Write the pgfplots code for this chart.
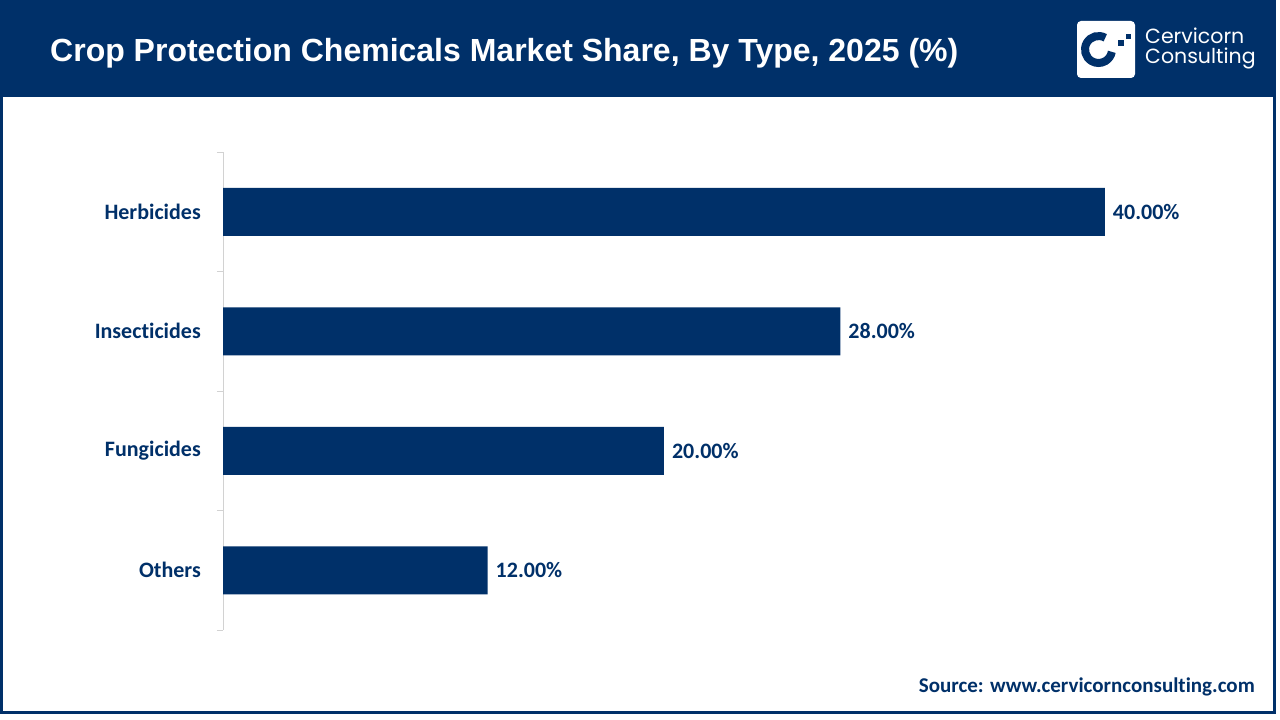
\documentclass[border=0pt]{standalone}
\usepackage{pgfplots}
\pgfplotsset{compat=1.18}
\usepackage{fontspec}
\setmainfont{Carlito}[Ligatures=NoCommon]
\newfontfamily\titlefont{Liberation Sans}
\newfontfamily\logofont{Poppins}
\definecolor{navy}{RGB}{0,48,105}
\definecolor{axisgray}{RGB}{210,210,210}

\begin{document}
\begin{tikzpicture}[x=1pt,y=1pt]
% page, header band and frame
\path[use as bounding box, fill=white] (0,0) rectangle (1280,720);
\fill[navy] (0,720) rectangle (1276,623);
\draw[navy, line width=3pt] (1.5,7.5) rectangle (1274.5,718.5);

\node[anchor=base west, inner sep=0pt, text=white,
      font=\titlefont\bfseries\fontsize{32}{38}\selectfont]
  at (50,658) {Crop Protection Chemicals Market Share, By Type, 2025 (\%)};

% logo
\fill[white, rounded corners=4pt] (1077,699) rectangle (1135,642);
\draw[navy, line width=8pt] ([shift={(60:13.5)}]1098.5,670.5) arc (60:350:13.5);
\fill[navy] (1126,686) rectangle (1131,681);
\fill[navy] (1118,680) rectangle (1124,674);
\node[anchor=base west, inner sep=0pt, text=white, font=\logofont\fontsize{20.5}{22}\selectfont]
  at (1145,676) {Cervicorn};
\node[anchor=base west, inner sep=0pt, text=white, font=\logofont\fontsize{20.5}{22}\selectfont]
  at (1145,656) {Consulting};

% source
\node[anchor=base east, inner sep=0pt, text=navy, font=\bfseries\fontsize{21}{24}\selectfont]
  at (1255,27) {Source: www.cervicornconsulting.com};

\begin{axis}[
    at={(223pt,90pt)}, anchor=south west,
    scale only axis, width=992pt, height=478pt,
    xmin=0, xmax=45, ymin=-0.5, ymax=3.5, y dir=reverse,
    hide x axis,
    axis y line*=left,
    y axis line style={-, draw=axisgray, line width=1pt},
    ytick={0,1,2,3},
    yticklabels={Herbicides,Insecticides,Fungicides,Others},
    major tick length=0pt,
    yticklabel style={font=\bfseries\fontsize{22}{26}\selectfont, text=navy, inner sep=0pt, xshift=-22pt},
    extra y ticks={-0.5,0.5,1.5,2.5,3.5},
    extra y tick labels={},
    extra y tick style={major tick length=6pt, tick align=outside,
        major tick style={draw=axisgray, line width=1pt}},
    xbar, bar width=48pt,
    point meta=x,
    /pgf/number format/assume math mode=true,
    nodes near coords={\pgfmathprintnumber[fixed,fixed zerofill,precision=2]{\pgfplotspointmeta}\%},
    every node near coord/.append style={font=\bfseries\fontsize{22}{26}\selectfont,
        text=navy, inner sep=0pt, xshift=8pt, anchor=west},
    clip=false,
]
\addplot[fill=navy, draw=none] coordinates {(40,0) (28,1) (20,2) (12,3)};
\end{axis}
\end{tikzpicture}
\end{document}
